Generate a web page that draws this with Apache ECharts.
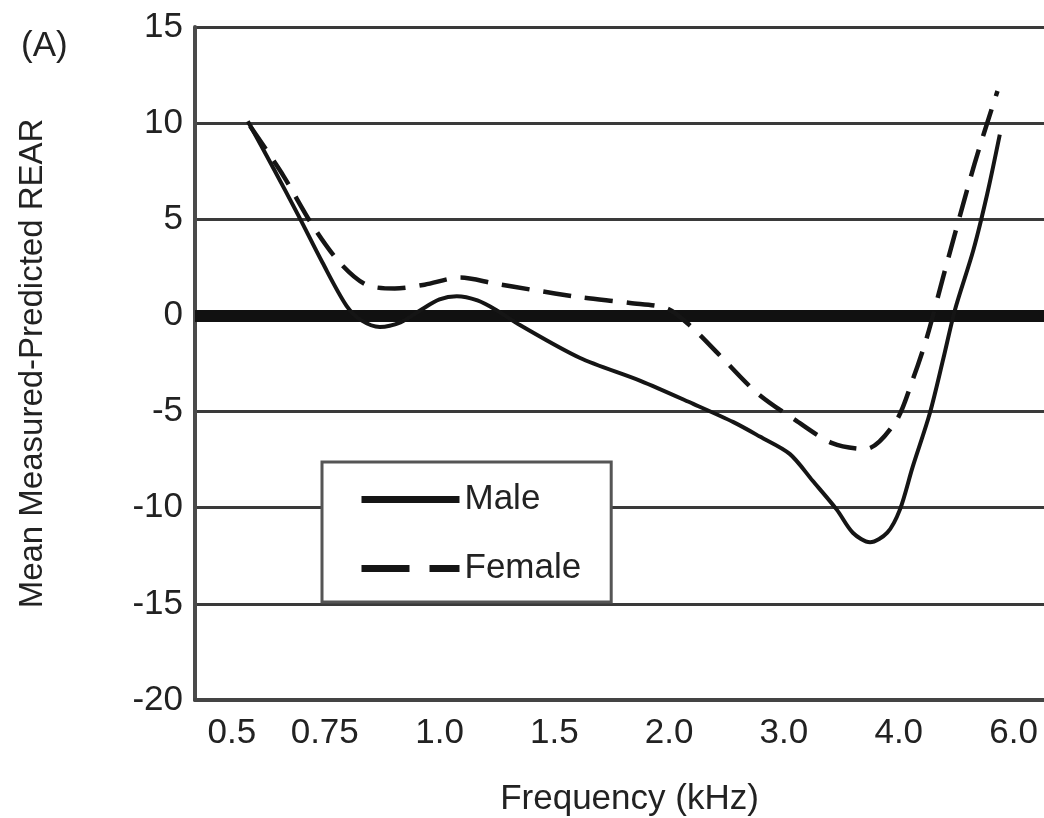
<!DOCTYPE html>
<html>
<head>
<meta charset="utf-8">
<title>Mean Measured-Predicted REAR</title>
<script src="https://cdn.jsdelivr.net/npm/echarts@6/dist/echarts.min.js"></script>
<style>
  html, body { margin: 0; padding: 0; background: #fff; }
  #chart { width: 1044px; height: 818px; }
</style>
</head>
<body>
<div id="chart"></div>
<script>
// Frequency categories, evenly spaced along the x axis (position = index)
const freqLabels = ['0.5', '0.75', '1.0', '1.5', '2.0', '3.0', '4.0', '6.0'];
const freqPositions = [0, 1, 2, 3, 4, 5, 6, 7];

// Mean measured - predicted REAR (dB), Male: axis position and value
const maleX = [0.33, 0.54, 0.77, 0.98, 1.19, 1.32, 1.48, 1.66, 1.83, 2.00, 2.15, 2.33, 2.50, 2.70,
               3.22, 3.75, 4.21, 4.56, 4.79, 5.05, 5.25, 5.46, 5.60, 5.75, 5.90, 6.01, 6.12,
               6.27, 6.39, 6.49, 6.65, 6.77, 6.88];
const maleY = [10.1, 7.8, 5.2, 2.75, 0.5, -0.26, -0.6, -0.36, 0.26, 0.83, 1.0, 0.78, 0.26, -0.5,
               -2.2, -3.4, -4.6, -5.55, -6.3, -7.2, -8.6, -10.1, -11.3, -11.8, -11.3, -10.1, -7.9,
               -5.1, -2.2, 0.3, 3.4, 6.3, 9.4];

// Female
const femaleX = [0.35, 0.64, 0.89, 1.13, 1.36, 1.61, 1.87, 2.18, 2.48, 2.79, 3.22, 3.66, 3.98,
                 4.18, 4.44, 4.76, 5.10, 5.42, 5.71, 5.97, 6.12, 6.25, 6.39, 6.66, 6.86];
const femaleY = [9.85, 7.26, 4.72, 2.75, 1.6, 1.4, 1.6, 1.97, 1.66, 1.35, 0.95, 0.65, 0.36,
                 -0.52, -2.07, -4.0, -5.45, -6.64, -6.95, -5.55, -3.37, -1.04, 2.07, 7.88, 11.67];

// Value axis ticks
const yTicks = [-20, -15, -10, -5, 0, 5, 10, 15];

const FONT = '"Liberation Sans", Arial, Helvetica, sans-serif';
const INK = '#151515';
const pairs = (xs, ys) => xs.map((x, i) => [x, ys[i]]);

const chart = echarts.init(document.getElementById('chart'), null, { renderer: 'canvas' });

chart.setOption({
  backgroundColor: '#ffffff',
  animation: false,
  color: [INK, INK],
  title: {
    text: '(A)',
    left: 16,
    top: 24,
    textStyle: { fontFamily: FONT, fontSize: 35, fontWeight: 'normal', color: '#222' }
  },
  grid: { left: 195, right: -4, top: 27, bottom: 118, containLabel: false, outerBoundsMode: 'none' },
  xAxis: {
    type: 'value',
    min: -0.13,
    max: 7.3,
    name: 'Frequency (kHz)',
    nameLocation: 'middle',
    nameGap: 82,
    nameTextStyle: { fontFamily: FONT, fontSize: 35, color: '#222', padding: [0, 0, 0, 16] },
    axisLine: { show: true, onZero: false, lineStyle: { color: '#444', width: 4 } },
    axisTick: { show: false },
    splitLine: { show: false },
    axisLabel: {
      customValues: freqPositions,
      margin: 16,
      fontFamily: FONT,
      fontSize: 35,
      color: '#222',
      formatter: v => {
        const lab = freqLabels[Math.round(v)];
        return Math.round(v) === 0 ? '{first|' + lab + '}' : lab;
      },
      rich: {
        first: { fontFamily: FONT, fontSize: 35, color: '#222', padding: [0, 0, 0, 44] }
      }
    }
  },
  yAxis: {
    type: 'value',
    min: -20,
    max: 15,
    interval: 5,
    name: 'Mean Measured-Predicted REAR',
    nameLocation: 'middle',
    nameRotate: 90,
    nameGap: 146,
    nameTextStyle: { fontFamily: FONT, fontSize: 33, color: '#222' },
    axisLine: { show: true, onZero: false, lineStyle: { color: '#4a4a4a', width: 4 } },
    axisTick: { show: false },
    splitLine: { show: true, lineStyle: { color: '#3a3a3a', width: 3 } },
    axisLabel: {
      customValues: yTicks,
      margin: 12,
      fontFamily: FONT,
      fontSize: 35,
      color: '#222'
    }
  },
  legend: {
    orient: 'vertical',
    left: 322,
    top: 462,
    itemWidth: 98,
    itemHeight: 36,
    itemGap: 34,
    padding: [20, 30, 16, 36],
    backgroundColor: '#ffffff',
    borderColor: '#555',
    borderWidth: 3,
    borderRadius: 0,
    itemStyle: { opacity: 0 },
    textStyle: { fontFamily: FONT, fontSize: 35, color: '#222' },
    data: [
      { name: 'Male', lineStyle: { width: 7, type: 'solid', color: INK } },
      { name: 'Female', lineStyle: { width: 7, type: [48, 20], color: INK } }
    ]
  },
  series: [
    {
      name: 'Male',
      type: 'line',
      data: pairs(maleX, maleY),
      smooth: 0.3,
      symbol: 'none',
      z: 3,
      itemStyle: { color: INK },
      lineStyle: { color: INK, width: 4 },
      markLine: {
        silent: true,
        symbol: 'none',
        label: { show: false },
        lineStyle: { color: '#111', width: 12, type: 'solid' },
        data: [{ yAxis: 0 }],
        z: 2
      }
    },
    {
      name: 'Female',
      type: 'line',
      data: pairs(femaleX, femaleY),
      smooth: 0.3,
      symbol: 'none',
      z: 3,
      itemStyle: { color: INK },
      lineStyle: { color: INK, width: 4.5, type: [28, 14] }
    }
  ]
});
</script>
</body>
</html>
